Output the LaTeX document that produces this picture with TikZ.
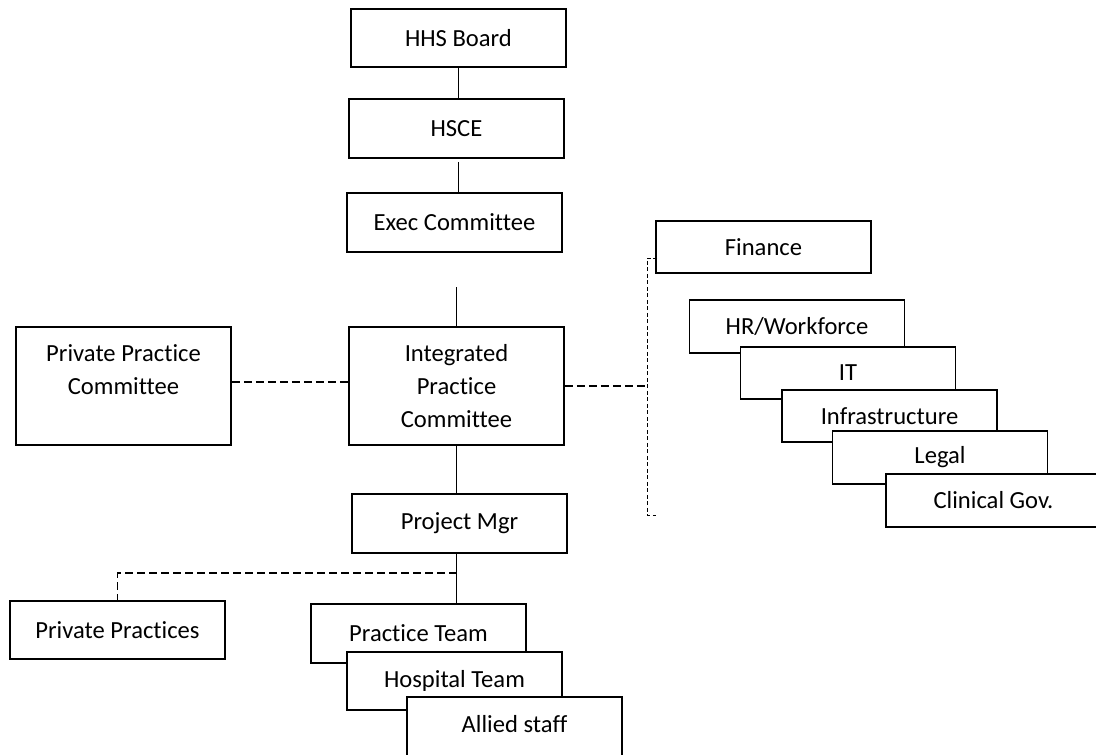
\documentclass[tikz,border=0pt]{standalone}
\usepackage{fontspec}
\setmainfont{Carlito}[Ligatures=NoCommon]
\usetikzlibrary{calc}
\begin{document}
\begin{tikzpicture}[x=1pt,y=-1pt,
  unit/.style={draw=black, line width=1.7pt, fill=white, minimum width=215pt,
    inner sep=0pt, align=center, font=\fontsize{24.6}{33}\selectfont},
  link/.style={line width=1.4pt},
  dashlink/.style={line width=1.4pt, dash pattern=on 8pt off 4pt},
  finelink/.style={line width=0.9pt, dash pattern=on 4pt off 2.5pt}]
\useasboundingbox (0,0) rectangle (1096,755);
\fill[white] (0,0) rectangle (1096,755);

% main chain
\node[unit, minimum height=58pt] (hhs)  at (458.5,38)   {HHS Board};
\node[unit, minimum height=59pt] (hsce) at (456.5,128.5) {HSCE};
\node[unit, minimum height=59pt] (exec) at (454.5,222.5) {Exec Committee};
\node[unit, minimum height=118pt] (ipc) at (456.5,386)  {Integrated\\Practice\\Committee};
\node[unit, minimum height=118pt] (ppc) at (123.5,386)  {Private Practice\\Committee\\~};
\node[unit, minimum height=59pt] (pm)   at (459.5,523.5) {Project Mgr};

% teams under the project manager
\node[unit, minimum height=59pt] (pt) at (418.5,633.5) {Practice Team};
\node[unit, minimum height=58pt] (ht) at (454.5,681)   {Hospital Team};
\node[unit, minimum height=86pt] (as) at (514.5,740)   {Allied staff\\~};
\node[unit, minimum height=58pt] (pp) at (117.5,630)   {Private Practices};

% support functions
\node[unit, minimum height=52pt] (fin)   at (763.5,247)   {Finance};
\node[unit, minimum height=53pt] (hr)    at (797,326.5)   {HR/Workforce};
\node[unit, minimum height=52pt] (it)    at (848,373)     {IT};
\node[unit, minimum height=52pt] (infra) at (889.5,416)   {Infrastructure};
\node[unit, minimum height=53pt] (legal) at (940,457.5)   {Legal};
\node[unit, minimum height=53pt] (clin)  at (993.5,500.5) {Clinical Gov.};

% solid reporting lines
\draw[link] (hhs.south) -- (hhs.south |- hsce.north);
\draw[link] ($(hhs.south |- hsce.south)+(0,3)$) -- ($(hhs.south |- exec.north)+(0,2)$);
\coordinate (ipctop) at (456.5,287);
\draw[link] (ipctop) -- (ipc.north);
\draw[link] (ipc.south) -- (ipc.south |- pm.north);
\draw[link] (ipc.south |- pm.south) -- (ipc.south |- pt.north);

% dashed advisory lines
\draw[dashlink] ([yshift=4pt]ppc.east) -- ([yshift=4pt]ipc.west);
\coordinate (ppjoin) at (456.5,573);
\draw[dashlink] (ppjoin) -| (pp.north);

\coordinate (brtop) at (647,258);
\coordinate (brbot) at (647,515);
\coordinate (brend) at (656,515);
\draw[dashlink] (ipc.east) -- (ipc.east -| brtop);
\draw[finelink] ($(fin.west |- brtop)+(2,0)$) -- (brtop) -- (brbot) -- (brend);
\end{tikzpicture}
\end{document}
